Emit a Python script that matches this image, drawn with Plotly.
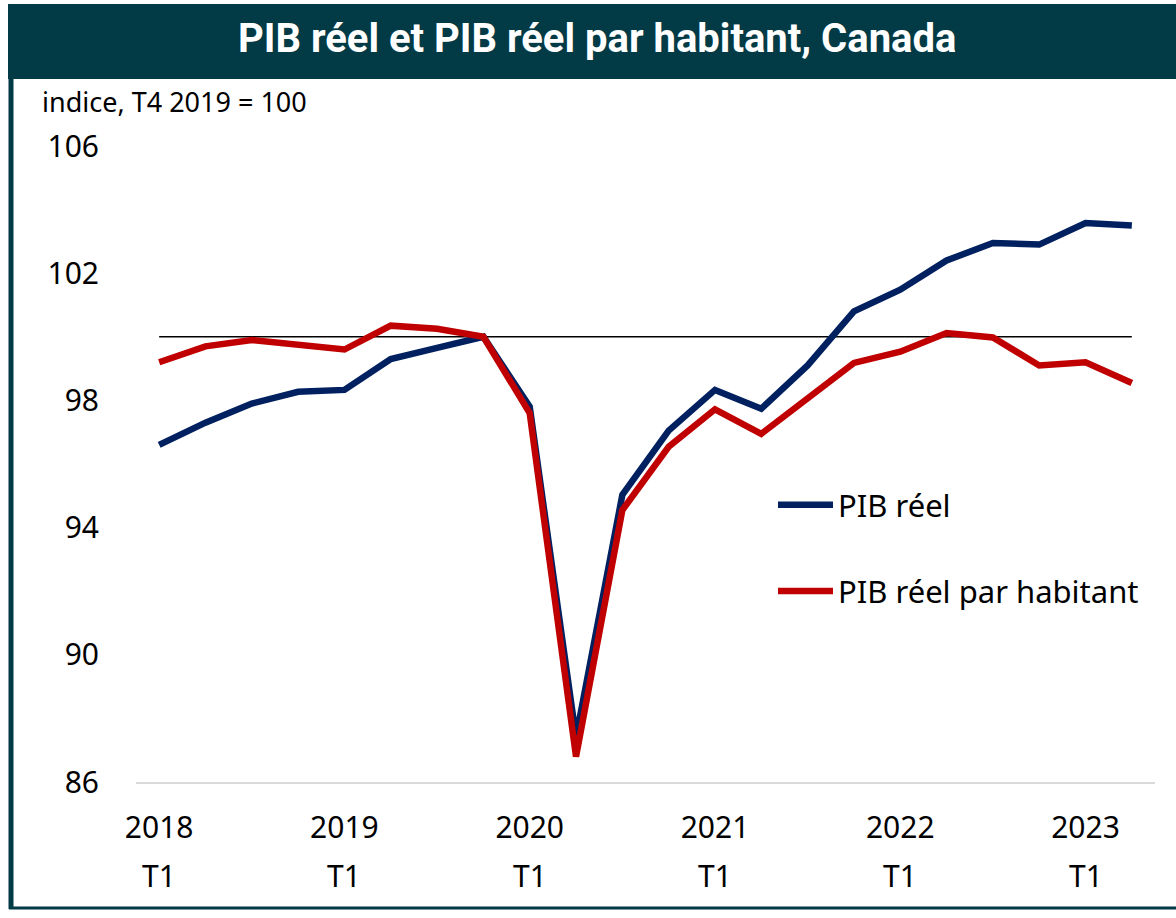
import plotly.graph_objects as go

# Indice, T4 2019 = 100
quarters = [f"{y} T{q}" for y in range(2018, 2024) for q in range(1, 5)][:22]
pib_reel = [96.6, 97.3, 97.9, 98.27, 98.33, 99.3, 99.65, 100.0, 97.8, 87.4, 95.03,
            97.05, 98.33, 97.74, 99.1, 100.8, 101.48, 102.4, 102.95, 102.9, 103.58, 103.5]
pib_par_hab = [99.2, 99.7, 99.9, 99.75, 99.6, 100.35, 100.25, 100.0, 97.6, 86.8, 94.55,
               96.54, 97.72, 96.95, 98.05, 99.18, 99.53, 100.12, 99.98, 99.1, 99.2, 98.55]
reference = [100.0] * len(quarters)

year_ticks = [q for q in quarters if q.endswith("T1")]
year_labels = [q.split()[0] for q in year_ticks]
y_ticks = [86, 90, 94, 98, 102, 106]

W, H = 1176, 918
L, R, T, B = 136, 21, 146, 136
TEAL = "#023a46"
FONT = "Noto Sans"


def px(x):
    return (x - L) / (W - L - R)


def py(y):
    return (H - B - y) / (H - T - B)


fig = go.Figure()
fig.add_trace(go.Scatter(x=quarters, y=reference, mode="lines", showlegend=False,
                         line=dict(color="black", width=1.5), hoverinfo="skip"))
fig.add_trace(go.Scatter(x=quarters, y=pib_reel, mode="lines", name="PIB réel",
                         legendgroup="a", line=dict(color="#002060", width=6.5)))
fig.add_trace(go.Scatter(x=quarters, y=pib_par_hab, mode="lines",
                         name="PIB réel par habitant", legendgroup="b",
                         line=dict(color="#c00000", width=6.5)))

# Rangée « T1 » sous les années
for q in year_ticks:
    fig.add_annotation(x=q, y=0, xref="x", yref="paper", text="T1", showarrow=False,
                       yanchor="middle", yshift=-93, font=dict(family=FONT, size=30, color="black"))

fig.add_annotation(x=px(597), y=py(38), xref="paper", yref="paper",
                   text="<b>PIB réel et PIB réel par habitant, Canada</b>", showarrow=False,
                   xanchor="center", yanchor="middle",
                   font=dict(family="Roboto", size=40, color="white"))
fig.add_annotation(x=px(40), y=py(101), xref="paper", yref="paper",
                   text="indice, T4 2019 = 100", showarrow=False,
                   xanchor="left", yanchor="middle",
                   font=dict(family=FONT, size=27, color="black"))

# Bandeau de titre et bordures
fig.add_shape(type="rect", xref="paper", yref="paper", x0=px(8), x1=px(W), y0=py(4), y1=py(79),
              fillcolor=TEAL, line_width=0, layer="below")
fig.add_shape(type="line", xref="paper", yref="paper", x0=px(11), x1=px(11), y0=py(79), y1=py(909),
              line=dict(color=TEAL, width=5))
fig.add_shape(type="line", xref="paper", yref="paper", x0=px(9), x1=px(W), y0=py(908), y1=py(908),
              line=dict(color=TEAL, width=3))

fig.update_layout(
    width=W, height=H, margin=dict(l=L, r=R, t=T, b=B),
    paper_bgcolor="white", plot_bgcolor="white",
    font=dict(family=FONT, size=30, color="black"),
    showlegend=True,
    legend=dict(x=px(773), y=py(478), xanchor="left", yanchor="top",
                font=dict(family=FONT, size=31, color="black"),
                bgcolor="rgba(0,0,0,0)", tracegroupgap=43, itemwidth=55),
)
fig.update_xaxes(type="category", range=[-0.5, len(quarters) - 0.5],
                 tickmode="array", tickvals=year_ticks, ticktext=year_labels,
                 showgrid=False, zeroline=False, showline=True, linecolor="#d9d9d9", linewidth=2,
                 ticks="", ticklabelstandoff=18)
fig.update_yaxes(range=[86, 106], tickmode="array", tickvals=y_ticks,
                 showgrid=False, zeroline=False, showline=False, ticks="",
                 ticklabelstandoff=36)

fig.write_html("out.html", config={"displayModeBar": False},
               post_script="document.body.style.margin = '0';")
